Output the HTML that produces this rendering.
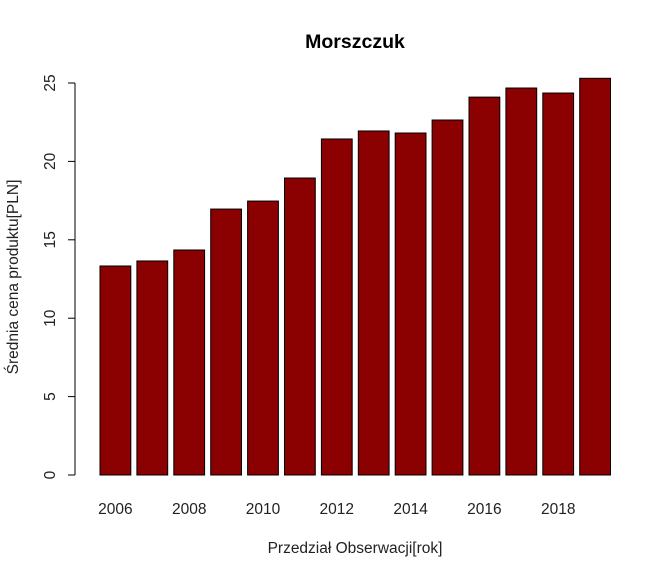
<!DOCTYPE html>
<html><head><meta charset="utf-8"><style>
html,body{margin:0;padding:0;background:#fff;}
svg{display:block;font-family:"Liberation Sans",Arial,sans-serif;}
</style></head><body>
<svg id="chart" width="672" height="577">
<text x="355" y="48" text-anchor="middle" font-size="19.5" font-weight="bold" fill="#000">Morszczuk</text>
<text x="355" y="553" text-anchor="middle" font-size="15.5" fill="#222">Przedział Obserwacji[rok]</text>
<text transform="translate(18,277) rotate(-90)" text-anchor="middle" font-size="15.5" fill="#222">Średnia cena produktu[PLN]</text>
<g id="bars"></g><g id="yaxis"></g><g id="xlabels"></g>
</svg>
<script>
const years = [2006,2007,2008,2009,2010,2011,2012,2013,2014,2015,2016,2017,2018,2019];
const values = [13.33,13.65,14.35,16.96,17.47,18.94,21.43,21.94,21.81,22.64,24.1,24.68,24.36,25.3];
const yTicks = [0,5,10,15,20,25];
const ns="http://www.w3.org/2000/svg";
const y0=475, pxPerUnit=15.68;
const yScale=v=>y0-v*pxPerUnit;
const step=36.9, barW=30.8, x0=100;
const xScale=i=>x0+i*step;
const bars=document.getElementById('bars');
values.forEach((v,i)=>{
 const r=document.createElementNS(ns,'rect');
 r.setAttribute('x',xScale(i));r.setAttribute('y',yScale(v));
 r.setAttribute('width',barW);r.setAttribute('height',y0-yScale(v));
 r.setAttribute('fill','#8b0000');r.setAttribute('stroke','#000');r.setAttribute('stroke-width','1');
 
 
 bars.appendChild(r);
});
const xl=document.getElementById('xlabels');
years.forEach((yr,i)=>{
 if(i%2) return;
 const t=document.createElementNS(ns,'text');
 t.setAttribute('x',xScale(i)+barW/2);t.setAttribute('y',514);
 t.setAttribute('text-anchor','middle');t.setAttribute('font-size','15.5');t.setAttribute('fill','#222');
 t.textContent=yr;
 
 
 xl.appendChild(t);
});
const ya=document.getElementById('yaxis');
const l=document.createElementNS(ns,'line');
l.setAttribute('x1',75);l.setAttribute('x2',75);l.setAttribute('y1',yScale(yTicks[0]));l.setAttribute('y2',yScale(yTicks[yTicks.length-1]));
l.setAttribute('stroke','#000');


ya.appendChild(l);
yTicks.forEach(v=>{
 const tk=document.createElementNS(ns,'line');
 tk.setAttribute('x1',68);tk.setAttribute('x2',75);tk.setAttribute('y1',yScale(v));tk.setAttribute('y2',yScale(v));
 tk.setAttribute('stroke','#000');
 
 
 ya.appendChild(tk);
 const t=document.createElementNS(ns,'text');
 t.setAttribute('transform','translate(55,'+yScale(v)+') rotate(-90)');
 t.setAttribute('text-anchor','middle');t.setAttribute('font-size','15.5');t.setAttribute('fill','#222');
 t.textContent=v;
 
 
 ya.appendChild(t);
});
</script>
</body></html>
